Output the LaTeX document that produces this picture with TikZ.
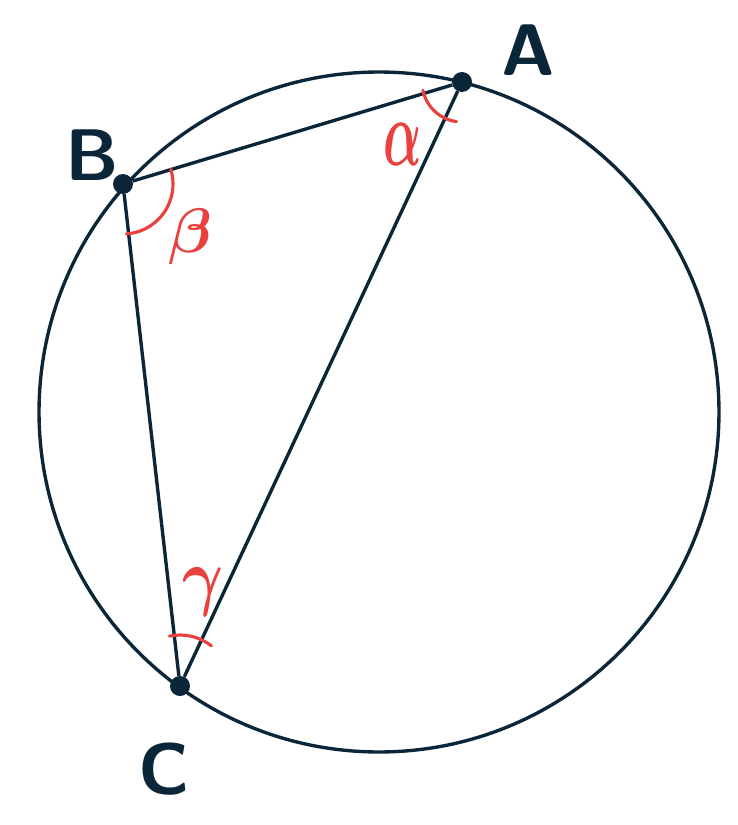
\documentclass[tikz,border=0pt]{standalone}
\usepackage{amsmath}
\usepackage{amssymb}
\usepackage{xcolor}
\usepackage{tikz}
\usetikzlibrary{calc}
\definecolor{navy}{HTML}{0A2638}
\definecolor{rouge}{HTML}{E8413E}

\begin{document}
\begin{tikzpicture}[x=0.05cm, y=-0.05cm,
    trait/.style={navy, line width=4.8pt},
    sommet/.style={circle, fill=navy, inner sep=0pt, minimum size=1cm},
    lettre/.style={navy, font=\fontsize{104}{104}\selectfont\sffamily\bfseries},
    arcangle/.style={rouge, line width=4.5pt, line cap=round},
    grec/.style={rouge, font=\Huge, scale=3.6}]
        \useasboundingbox (0,0) rectangle (737,825);

        % Cercle
        \coordinate (O) at (379,412);
        \draw[trait] (O) circle[radius=17cm];

        % Sommets
        \node[sommet] (A) at (462,82) {};
        \node[sommet] (B) at (123,184) {};
        \node[sommet] (C) at (180,686) {};

        % Triangle
        \draw[trait, line join=round] (A) -- (B) -- (C) -- (A);

        % Noms des sommets
        \node[lettre] (lA) at (528,50) {A};
        \node[lettre] (lB) at (92,155) {B};
        \node[lettre] (lC) at (164,769) {C};

        % Angles
        \draw[arcangle] (A) ++(192:2cm) arc[start angle=192, end angle=262, radius=2cm];
        \draw[arcangle] (B) ++(-86:2.5cm) arc[start angle=-86, end angle=17, radius=2.5cm];
        \draw[arcangle] (C) ++(52:2.55cm) arc[start angle=52, end angle=102, radius=2.55cm];
        \node[grec, xscale=0.8, yscale=1.5] (alpha) at (403,145) {$\boldsymbol{\alpha}$};
        \node[grec] (beta) at (190,237) {$\boldsymbol{\beta}$};
        \node[grec, yscale=1.2] (gamma) at (203,592) {$\boldsymbol{\gamma}$};
    \end{tikzpicture}
\end{document}
